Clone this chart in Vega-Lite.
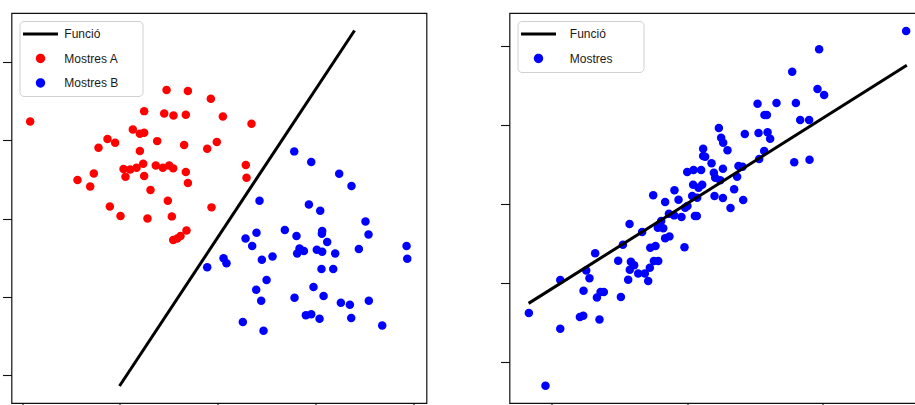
{
  "$schema": "https://vega.github.io/schema/vega-lite/v6.json",
  "padding": {"left": 0.5, "top": 12, "right": 0, "bottom": 0},
  "spacing": 71,
  "background": "white",
  "config": {
    "view": {"stroke": "#111111", "strokeWidth": 1.2},
    "axis": {"labels": false, "domain": false, "grid": false, "ticks": true, "tickColor": "#111111", "tickWidth": 1.1, "title": null, "minExtent": 0},
    "axisY": {"tickSize": 9},
    "axisX": {"tickSize": 3},
    "legend": {
      "title": null, "orient": "top-left", "offset": 8, "padding": 7, "symbolSize": 225, "symbolOffset": 8,
      "rowPadding": 12.5, "labelFont": "Liberation Sans", "labelFontSize": 12, "labelColor": "#1a1a1a",
      "strokeColor": "#d0d0d0", "fillColor": "white", "cornerRadius": 4
    }
  },
  "datasets": {
    "left": [
      {"x": 0.996, "y": -0.136, "s": "Funció"}, {"x": 3.400, "y": 4.404, "s": "Funció"},
      {"x": 0.082, "y": 3.243, "s": "Mostres A"}, {"x": 1.477, "y": 3.643, "s": "Mostres A"}, {"x": 1.695, "y": 3.630, "s": "Mostres A"},
      {"x": 1.930, "y": 3.532, "s": "Mostres A"}, {"x": 1.248, "y": 3.374, "s": "Mostres A"}, {"x": 1.453, "y": 3.345, "s": "Mostres A"},
      {"x": 1.548, "y": 3.319, "s": "Mostres A"}, {"x": 1.674, "y": 3.328, "s": "Mostres A"}, {"x": 2.053, "y": 3.306, "s": "Mostres A"},
      {"x": 2.346, "y": 3.213, "s": "Mostres A"}, {"x": 1.132, "y": 3.140, "s": "Mostres A"}, {"x": 1.204, "y": 3.085, "s": "Mostres A"},
      {"x": 1.248, "y": 3.098, "s": "Mostres A"}, {"x": 0.873, "y": 3.017, "s": "Mostres A"}, {"x": 0.951, "y": 2.970, "s": "Mostres A"},
      {"x": 1.381, "y": 2.991, "s": "Mostres A"}, {"x": 0.781, "y": 2.906, "s": "Mostres A"}, {"x": 1.657, "y": 2.940, "s": "Mostres A"},
      {"x": 1.893, "y": 2.894, "s": "Mostres A"}, {"x": 1.991, "y": 2.979, "s": "Mostres A"}, {"x": 1.204, "y": 2.864, "s": "Mostres A"},
      {"x": 1.037, "y": 2.634, "s": "Mostres A"}, {"x": 1.105, "y": 2.630, "s": "Mostres A"}, {"x": 1.170, "y": 2.651, "s": "Mostres A"},
      {"x": 1.238, "y": 2.702, "s": "Mostres A"}, {"x": 1.367, "y": 2.681, "s": "Mostres A"}, {"x": 1.439, "y": 2.651, "s": "Mostres A"},
      {"x": 1.504, "y": 2.681, "s": "Mostres A"}, {"x": 1.545, "y": 2.643, "s": "Mostres A"}, {"x": 1.674, "y": 2.596, "s": "Mostres A"},
      {"x": 2.288, "y": 2.685, "s": "Mostres A"}, {"x": 0.733, "y": 2.579, "s": "Mostres A"}, {"x": 1.057, "y": 2.536, "s": "Mostres A"},
      {"x": 1.248, "y": 2.545, "s": "Mostres A"}, {"x": 0.566, "y": 2.494, "s": "Mostres A"}, {"x": 2.295, "y": 2.523, "s": "Mostres A"},
      {"x": 1.695, "y": 2.455, "s": "Mostres A"}, {"x": 0.696, "y": 2.413, "s": "Mostres A"}, {"x": 1.313, "y": 2.366, "s": "Mostres A"},
      {"x": 1.490, "y": 2.230, "s": "Mostres A"}, {"x": 0.897, "y": 2.157, "s": "Mostres A"}, {"x": 1.937, "y": 2.145, "s": "Mostres A"},
      {"x": 1.006, "y": 2.034, "s": "Mostres A"}, {"x": 1.282, "y": 2.004, "s": "Mostres A"}, {"x": 1.531, "y": 2.030, "s": "Mostres A"},
      {"x": 1.681, "y": 1.851, "s": "Mostres A"}, {"x": 1.620, "y": 1.779, "s": "Mostres A"}, {"x": 1.586, "y": 1.749, "s": "Mostres A"},
      {"x": 1.545, "y": 1.728, "s": "Mostres A"},
      {"x": 2.783, "y": 2.860, "s": "Mostres B"}, {"x": 2.957, "y": 2.723, "s": "Mostres B"}, {"x": 3.243, "y": 2.574, "s": "Mostres B"},
      {"x": 3.369, "y": 2.417, "s": "Mostres B"}, {"x": 2.428, "y": 2.230, "s": "Mostres B"}, {"x": 2.933, "y": 2.183, "s": "Mostres B"},
      {"x": 3.049, "y": 2.102, "s": "Mostres B"}, {"x": 3.512, "y": 1.966, "s": "Mostres B"}, {"x": 2.397, "y": 1.821, "s": "Mostres B"},
      {"x": 2.687, "y": 1.855, "s": "Mostres B"}, {"x": 2.806, "y": 1.779, "s": "Mostres B"}, {"x": 3.069, "y": 1.843, "s": "Mostres B"},
      {"x": 3.066, "y": 1.809, "s": "Mostres B"}, {"x": 3.543, "y": 1.800, "s": "Mostres B"}, {"x": 2.285, "y": 1.749, "s": "Mostres B"},
      {"x": 3.120, "y": 1.702, "s": "Mostres B"}, {"x": 2.353, "y": 1.651, "s": "Mostres B"}, {"x": 2.837, "y": 1.621, "s": "Mostres B"},
      {"x": 2.813, "y": 1.557, "s": "Mostres B"}, {"x": 2.882, "y": 1.587, "s": "Mostres B"}, {"x": 3.014, "y": 1.604, "s": "Mostres B"},
      {"x": 3.069, "y": 1.579, "s": "Mostres B"}, {"x": 3.202, "y": 1.557, "s": "Mostres B"}, {"x": 3.444, "y": 1.613, "s": "Mostres B"},
      {"x": 3.932, "y": 1.651, "s": "Mostres B"}, {"x": 2.060, "y": 1.494, "s": "Mostres B"}, {"x": 2.090, "y": 1.430, "s": "Mostres B"},
      {"x": 2.452, "y": 1.477, "s": "Mostres B"}, {"x": 2.561, "y": 1.519, "s": "Mostres B"}, {"x": 1.893, "y": 1.379, "s": "Mostres B"},
      {"x": 3.939, "y": 1.489, "s": "Mostres B"}, {"x": 3.062, "y": 1.357, "s": "Mostres B"}, {"x": 3.182, "y": 1.357, "s": "Mostres B"},
      {"x": 2.500, "y": 1.217, "s": "Mostres B"}, {"x": 2.394, "y": 1.094, "s": "Mostres B"}, {"x": 2.980, "y": 1.128, "s": "Mostres B"},
      {"x": 2.786, "y": 0.991, "s": "Mostres B"}, {"x": 3.083, "y": 1.013, "s": "Mostres B"}, {"x": 2.445, "y": 0.953, "s": "Mostres B"},
      {"x": 3.260, "y": 0.928, "s": "Mostres B"}, {"x": 3.352, "y": 0.902, "s": "Mostres B"}, {"x": 3.546, "y": 0.953, "s": "Mostres B"},
      {"x": 2.902, "y": 0.766, "s": "Mostres B"}, {"x": 2.957, "y": 0.779, "s": "Mostres B"}, {"x": 3.042, "y": 0.723, "s": "Mostres B"},
      {"x": 3.366, "y": 0.732, "s": "Mostres B"}, {"x": 2.257, "y": 0.681, "s": "Mostres B"}, {"x": 3.683, "y": 0.638, "s": "Mostres B"},
      {"x": 2.469, "y": 0.570, "s": "Mostres B"}
    ],
    "right": [
      {"x": -0.172, "y": 0.739, "s": "Funció"}, {"x": 2.623, "y": 3.755, "s": "Funció"},
      {"x": 2.618, "y": 4.190, "s": "Mostres"}, {"x": 1.975, "y": 3.958, "s": "Mostres"}, {"x": 1.776, "y": 3.675, "s": "Mostres"},
      {"x": 1.963, "y": 3.455, "s": "Mostres"}, {"x": 2.012, "y": 3.379, "s": "Mostres"}, {"x": 1.520, "y": 3.269, "s": "Mostres"},
      {"x": 1.660, "y": 3.278, "s": "Mostres"}, {"x": 1.803, "y": 3.278, "s": "Mostres"}, {"x": 1.571, "y": 3.126, "s": "Mostres"},
      {"x": 1.589, "y": 3.126, "s": "Mostres"}, {"x": 1.835, "y": 3.062, "s": "Mostres"}, {"x": 1.901, "y": 3.062, "s": "Mostres"},
      {"x": 1.234, "y": 2.961, "s": "Mostres"}, {"x": 1.426, "y": 2.885, "s": "Mostres"}, {"x": 1.527, "y": 2.898, "s": "Mostres"},
      {"x": 1.594, "y": 2.906, "s": "Mostres"}, {"x": 1.613, "y": 2.826, "s": "Mostres"}, {"x": 1.251, "y": 2.838, "s": "Mostres"},
      {"x": 1.266, "y": 2.775, "s": "Mostres"}, {"x": 1.298, "y": 2.678, "s": "Mostres"}, {"x": 1.118, "y": 2.699, "s": "Mostres"},
      {"x": 1.118, "y": 2.606, "s": "Mostres"}, {"x": 1.133, "y": 2.598, "s": "Mostres"}, {"x": 1.569, "y": 2.669, "s": "Mostres"},
      {"x": 1.532, "y": 2.568, "s": "Mostres"}, {"x": 1.791, "y": 2.526, "s": "Mostres"}, {"x": 1.904, "y": 2.560, "s": "Mostres"},
      {"x": 1.180, "y": 2.513, "s": "Mostres"}, {"x": 1.000, "y": 2.403, "s": "Mostres"}, {"x": 1.047, "y": 2.429, "s": "Mostres"},
      {"x": 1.103, "y": 2.429, "s": "Mostres"}, {"x": 1.197, "y": 2.395, "s": "Mostres"}, {"x": 1.264, "y": 2.446, "s": "Mostres"},
      {"x": 1.207, "y": 2.332, "s": "Mostres"}, {"x": 1.244, "y": 2.298, "s": "Mostres"}, {"x": 1.379, "y": 2.479, "s": "Mostres"},
      {"x": 1.409, "y": 2.471, "s": "Mostres"}, {"x": 1.369, "y": 2.344, "s": "Mostres"}, {"x": 1.044, "y": 2.243, "s": "Mostres"},
      {"x": 1.111, "y": 2.243, "s": "Mostres"}, {"x": 1.084, "y": 2.205, "s": "Mostres"}, {"x": 0.906, "y": 2.171, "s": "Mostres"},
      {"x": 0.749, "y": 2.108, "s": "Mostres"}, {"x": 0.936, "y": 2.053, "s": "Mostres"}, {"x": 0.837, "y": 2.023, "s": "Mostres"},
      {"x": 1.037, "y": 2.099, "s": "Mostres"}, {"x": 1.074, "y": 2.078, "s": "Mostres"}, {"x": 1.202, "y": 2.099, "s": "Mostres"},
      {"x": 1.264, "y": 2.074, "s": "Mostres"}, {"x": 1.347, "y": 2.184, "s": "Mostres"}, {"x": 1.414, "y": 2.049, "s": "Mostres"},
      {"x": 1.320, "y": 1.947, "s": "Mostres"}, {"x": 1.002, "y": 1.973, "s": "Mostres"}, {"x": 0.985, "y": 1.951, "s": "Mostres"},
      {"x": 0.865, "y": 1.875, "s": "Mostres"}, {"x": 0.904, "y": 1.854, "s": "Mostres"}, {"x": 0.958, "y": 1.833, "s": "Mostres"},
      {"x": 1.057, "y": 1.846, "s": "Mostres"}, {"x": 1.071, "y": 1.846, "s": "Mostres"}, {"x": 0.574, "y": 1.744, "s": "Mostres"},
      {"x": 0.808, "y": 1.782, "s": "Mostres"}, {"x": 0.783, "y": 1.698, "s": "Mostres"}, {"x": 0.823, "y": 1.690, "s": "Mostres"},
      {"x": 0.667, "y": 1.643, "s": "Mostres"}, {"x": 0.525, "y": 1.483, "s": "Mostres"}, {"x": 0.837, "y": 1.563, "s": "Mostres"},
      {"x": 0.869, "y": 1.588, "s": "Mostres"}, {"x": 0.727, "y": 1.445, "s": "Mostres"}, {"x": 0.766, "y": 1.466, "s": "Mostres"},
      {"x": 0.980, "y": 1.449, "s": "Mostres"}, {"x": 0.320, "y": 1.373, "s": "Mostres"}, {"x": 0.490, "y": 1.280, "s": "Mostres"},
      {"x": 0.584, "y": 1.267, "s": "Mostres"}, {"x": 0.608, "y": 1.221, "s": "Mostres"}, {"x": 0.576, "y": 1.166, "s": "Mostres"},
      {"x": 0.754, "y": 1.276, "s": "Mostres"}, {"x": 0.786, "y": 1.276, "s": "Mostres"}, {"x": 0.724, "y": 1.191, "s": "Mostres"},
      {"x": 0.638, "y": 1.119, "s": "Mostres"}, {"x": 0.687, "y": 1.119, "s": "Mostres"}, {"x": 0.254, "y": 1.157, "s": "Mostres"},
      {"x": 0.278, "y": 1.056, "s": "Mostres"}, {"x": 0.564, "y": 1.039, "s": "Mostres"}, {"x": 0.712, "y": 1.022, "s": "Mostres"},
      {"x": 0.062, "y": 1.035, "s": "Mostres"}, {"x": 0.234, "y": 0.900, "s": "Mostres"}, {"x": 0.360, "y": 0.883, "s": "Mostres"},
      {"x": 0.384, "y": 0.883, "s": "Mostres"}, {"x": 0.333, "y": 0.815, "s": "Mostres"}, {"x": 0.510, "y": 0.819, "s": "Mostres"},
      {"x": -0.170, "y": 0.617, "s": "Mostres"}, {"x": 0.207, "y": 0.566, "s": "Mostres"}, {"x": 0.232, "y": 0.583, "s": "Mostres"},
      {"x": 0.352, "y": 0.536, "s": "Mostres"}, {"x": 0.062, "y": 0.418, "s": "Mostres"}, {"x": -0.047, "y": -0.304, "s": "Mostres"}
    ]
  },
  "resolve": {"scale": {"color": "independent", "x": "independent", "y": "independent"}, "legend": {"color": "independent"}},
  "hconcat": [
    {
      "width": 415, "height": 390,
      "data": {"name": "left"},
      "encoding": {
        "x": {"field": "x", "type": "quantitative", "title": null, "scale": {"domain": [-0.109, 4.136], "nice": false, "zero": false}, "axis": {"values": [0, 1, 2, 3, 4]}},
        "y": {"field": "y", "type": "quantitative", "title": null, "scale": {"domain": [-0.353, 4.627], "nice": false, "zero": false}, "axis": {"values": [0, 1, 2, 3, 4]}},
        "color": {
          "field": "s", "type": "nominal",
          "scale": {"domain": ["Funció", "Mostres A", "Mostres B"], "range": ["#000000", "#ff0000", "#0000ff"]},
          "legend": {
            "labelOffset": 17.8,
            "labelExpr": "datum.label + '\u00a0\u00a0\u00a0\u00a0\u00a0\u200b'",
            "encode": {"symbols": {"update": {
              "shape": {"signal": "datum.value === 'Funció' ? 'M-2.33,0H2.33' : 'M-0.62,0A0.62,0.62 0 1,1 0.62,0A0.62,0.62 0 1,1 -0.62,0Z'"},
              "fill": {"signal": "datum.value === 'Mostres A' ? '#ff0000' : datum.value === 'Mostres B' ? '#0000ff' : 'transparent'"},
              "stroke": {"signal": "datum.value === 'Funció' ? '#000000' : 'transparent'"},
              "strokeWidth": {"signal": "datum.value === 'Funció' ? 3 : 0"},
              "opacity": {"value": 1}
            }}}
          }
        }
      },
      "layer": [
        {"transform": [{"filter": "datum.s !== 'Funció'"}], "mark": {"type": "circle", "size": 72, "opacity": 1}},
        {"transform": [{"filter": "datum.s === 'Funció'"}], "mark": {"type": "line", "strokeWidth": 3}}
      ]
    },
    {
      "width": 416, "height": 390,
      "data": {"name": "right"},
      "encoding": {
        "x": {"field": "x", "type": "quantitative", "title": null, "scale": {"domain": [-0.313, 2.761], "nice": false, "zero": false}, "axis": {"values": [0, 1, 2]}},
        "y": {"field": "y", "type": "quantitative", "title": null, "scale": {"domain": [-0.523, 4.418], "nice": false, "zero": false}, "axis": {"values": [0, 1, 2, 3, 4]}},
        "color": {
          "field": "s", "type": "nominal",
          "scale": {"domain": ["Funció", "Mostres"], "range": ["#000000", "#0000ff"]},
          "legend": {
            "labelOffset": 25.3,
            "labelExpr": "datum.label + '\u00a0\u00a0\u00a0\u00a0\u00a0\u00a0\u00a0\u200b'",
            "encode": {"symbols": {"update": {
              "shape": {"signal": "datum.value === 'Funció' ? 'M-2.33,0H2.33' : 'M-0.62,0A0.62,0.62 0 1,1 0.62,0A0.62,0.62 0 1,1 -0.62,0Z'"},
              "fill": {"signal": "datum.value === 'Mostres' ? '#0000ff' : 'transparent'"},
              "stroke": {"signal": "datum.value === 'Funció' ? '#000000' : 'transparent'"},
              "strokeWidth": {"signal": "datum.value === 'Funció' ? 3 : 0"},
              "opacity": {"value": 1}
            }}}
          }
        }
      },
      "layer": [
        {"transform": [{"filter": "datum.s !== 'Funció'"}], "mark": {"type": "circle", "size": 72, "opacity": 1}},
        {"transform": [{"filter": "datum.s === 'Funció'"}], "mark": {"type": "line", "strokeWidth": 3}}
      ]
    }
  ]
}
